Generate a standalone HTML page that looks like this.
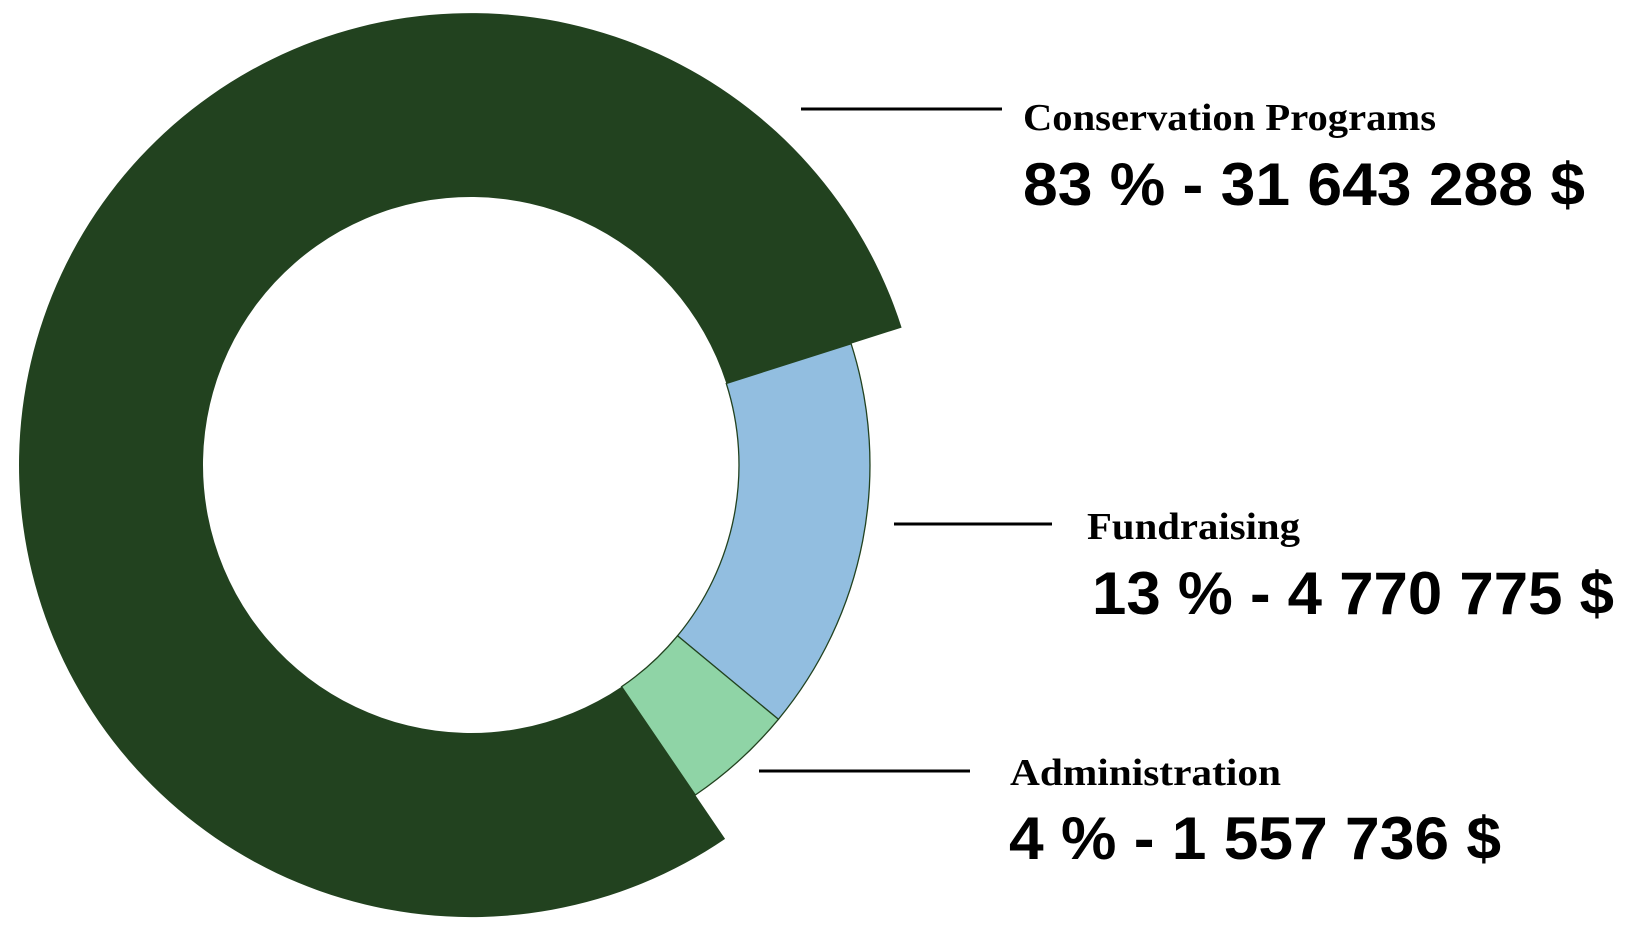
<!DOCTYPE html>
<html><head><meta charset="utf-8"><style>
html,body{margin:0;padding:0;background:#fff;width:1630px;height:932px;overflow:hidden}
</style></head><body>
<svg width="1630" height="932" viewBox="0 0 1630 932" xmlns="http://www.w3.org/2000/svg">
<path d="M725.1 838.9 A452 452 0 1 1 901.6 327.6 L726.3 383.5 A268 268 0 1 0 621.6 686.7 Z" fill="#22421f"/>
<path d="M851.1 343.7 A399 399 0 0 1 778.4 719.3 L677.5 635.8 A268 268 0 0 0 726.3 383.5 Z" fill="#92bee0" stroke="#22421f" stroke-width="1.3"/>
<path d="M778.4 719.3 A399 399 0 0 1 695.3 795 L621.6 686.7 A268 268 0 0 0 677.5 635.8 Z" fill="#8fd4a6" stroke="#22421f" stroke-width="1.3"/>
<g stroke="#000" stroke-width="3">
<line x1="801" y1="109" x2="1002" y2="109"/>
<line x1="894" y1="524" x2="1052" y2="524"/>
<line x1="759" y1="771" x2="970" y2="771"/>
</g>
<g font-family="'Liberation Serif',serif" font-weight="bold" font-size="38" fill="#000">
<text x="1023" y="130" textLength="413" lengthAdjust="spacingAndGlyphs">Conservation Programs</text>
<text x="1087" y="539" textLength="213" lengthAdjust="spacingAndGlyphs">Fundraising</text>
<text x="1010" y="785" textLength="271" lengthAdjust="spacingAndGlyphs">Administration</text>
</g>
<g font-family="'Liberation Sans',sans-serif" font-weight="bold" font-size="60" fill="#000">
<text x="1023" y="205" textLength="562" lengthAdjust="spacingAndGlyphs">83 % - 31 643 288 $</text>
<text x="1092" y="614" textLength="522" lengthAdjust="spacingAndGlyphs">13 % - 4 770 775 $</text>
<text x="1009" y="859" textLength="492" lengthAdjust="spacingAndGlyphs">4 % - 1 557 736 $</text>
</g>
</svg>
</body></html>
